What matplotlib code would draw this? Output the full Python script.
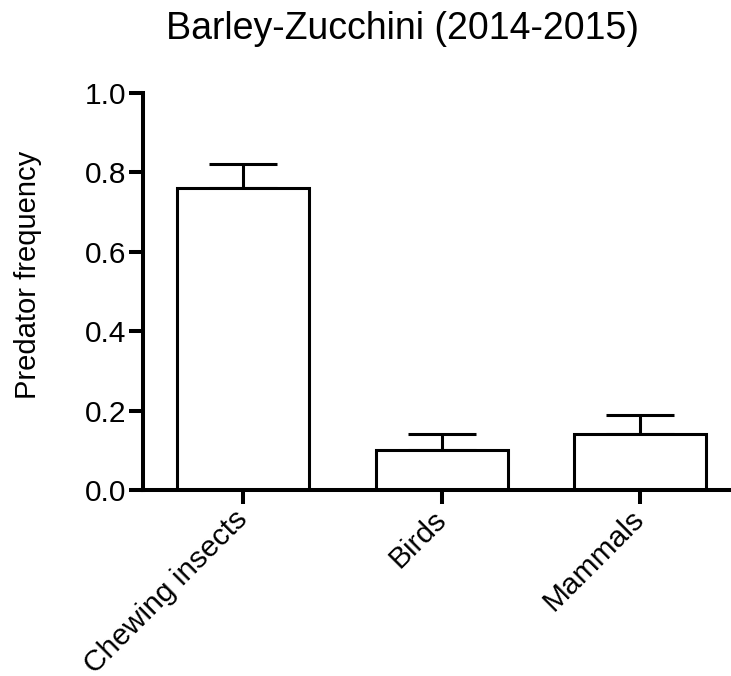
import matplotlib
matplotlib.use("Agg")
import matplotlib.pyplot as plt

plt.rcParams['font.family'] = ['Liberation Sans', 'DejaVu Sans']

categories = ["Chewing insects", "Birds", "Mammals"]
means = [0.76, 0.10, 0.14]
errors = [0.06, 0.04, 0.05]
yticks = [0.0, 0.2, 0.4, 0.6, 0.8, 1.0]
ytick_labels = ["0.0", "0.2", "0.4", "0.6", "0.8", "1.0"]

W, H = 731, 676
fig = plt.figure(figsize=(W / 100, H / 100), dpi=100)
ax = fig.add_axes([143 / W, 1 - 490 / H, (730 - 143) / W, (490 - 93) / H])

x = list(range(len(categories)))
ax.bar(x, means, width=0.665, color='white', edgecolor='black', linewidth=2.2, zorder=2)
ax.errorbar(x, means, yerr=[[0] * len(errors), errors], fmt='none', ecolor='black',
            elinewidth=2.2, capsize=24.5, capthick=2.2, zorder=1)

ax.set_xlim(-0.504, 2.453)
ax.set_ylim(0, 1.0)
ax.set_yticks(yticks)
ax.set_yticklabels(ytick_labels)
ax.set_xticks(x)
ax.set_xticklabels(categories, rotation=45, ha='right', va='center',
                   rotation_mode='anchor')

for s in ['top', 'right']:
    ax.spines[s].set_visible(False)
for s in ['left', 'bottom']:
    ax.spines[s].set_linewidth(2.9)
ax.tick_params(axis='both', length=10, width=2.9, labelsize=21.5, direction='out')
ax.tick_params(axis='y', pad=2)
ax.tick_params(axis='x', pad=8)

fig.text(28 / W, 1 - 275 / H, "Predator frequency", rotation=90, ha='center',
         va='center', fontsize=21)
fig.text(403 / W, 1 - 39 / H, "Barley-Zucchini (2014-2015)", ha='center',
         va='baseline', fontsize=27)

fig.savefig("out.png", dpi=100)
